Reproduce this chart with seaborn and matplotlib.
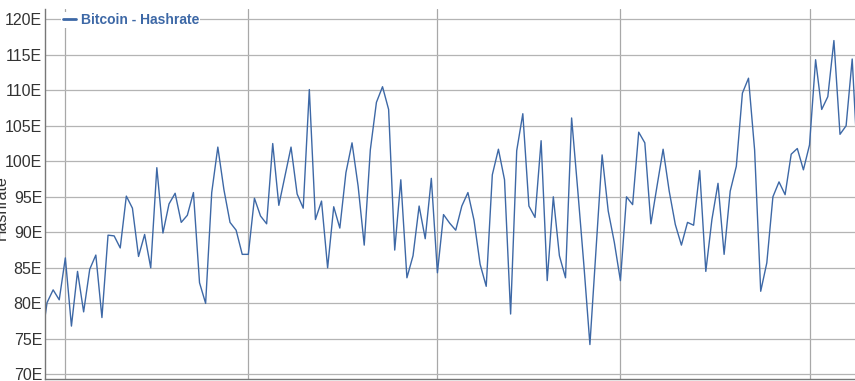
import matplotlib
matplotlib.use("Agg")
import matplotlib.pyplot as plt
import matplotlib.dates as mdates
from matplotlib.ticker import FuncFormatter
import numpy as np
import pandas as pd
import seaborn as sns

# ---- data (daily hashrate, EH/s) ----
start_date = "2019-08-28"
hashrate = [
    74.0, 80.1, 81.9, 80.5, 86.4, 76.8, 84.5, 78.8, 84.8, 86.8,
    78.0, 89.6, 89.5, 87.8, 95.1, 93.4, 86.6, 89.7, 85.0, 99.1,
    89.9, 94.0, 95.5, 91.4, 92.4, 95.6, 82.9, 80.0, 95.6, 102.0,
    96.0, 91.4, 90.3, 86.9, 86.9, 94.8, 92.3, 91.2, 102.5, 93.8,
    97.9, 102.0, 95.4, 93.4, 110.1, 91.8, 94.4, 85.0, 93.6, 90.6,
    98.4, 102.6, 96.5, 88.2, 101.6, 108.3, 110.5, 107.3, 87.5, 97.4,
    83.6, 86.7, 93.7, 89.1, 97.6, 84.3, 92.5, 91.3, 90.3, 93.7,
    95.6, 91.7, 85.5, 82.4, 98.1, 101.7, 97.4, 78.5, 101.5, 106.7,
    93.7, 92.1, 102.9, 83.2, 95.0, 86.7, 83.6, 106.1, 96.0, 85.5,
    74.2, 87.6, 100.9, 93.0, 88.6, 83.2, 95.0, 93.9, 104.1, 102.6,
    91.2, 96.5, 101.7, 95.8, 91.1, 88.2, 91.4, 91.0, 98.7, 84.5,
    91.8, 96.9, 86.9, 95.8, 99.3, 109.6, 111.7, 101.6, 81.7, 85.7,
    95.0, 97.1, 95.3, 101.0, 101.8, 98.8, 102.3, 114.3, 107.3, 109.1,
    117.0, 103.8, 105.0, 114.4, 98.0,
]
series_name = "Bitcoin - Hashrate"
y_label = "Hashrate"
y_ticks = [70, 75, 80, 85, 90, 95, 100, 105, 110, 115, 120]

dates = pd.date_range(start_date, periods=len(hashrate), freq="D")
df = pd.DataFrame({"date": dates, "value": hashrate, "series": series_name})

sns.set_theme(style="white")
plt.rcParams["font.family"] = ["Liberation Sans", "DejaVu Sans"]

W, H = 855, 381
fig = plt.figure(figsize=(W / 100, H / 100), dpi=100)
ax = fig.add_axes([45 / W, 2 / H, 1 - 45 / W, (379 - 9.3) / H])

line_color = "#3d68a6"
sns.lineplot(data=df, x="date", y="value", hue="series",
             palette=[line_color], linewidth=1.0, ax=ax)

ax.set_ylim(69.35, 121.4)
ax.set_xlim(dates[1] - pd.Timedelta(hours=8), dates[-2] + pd.Timedelta(hours=11))
ax.set_yticks(y_ticks)
ax.yaxis.set_major_formatter(FuncFormatter(lambda v, p: f"{v:.0f}E"))
ax.xaxis.set_major_locator(mdates.MonthLocator())
ax.tick_params(axis="x", labelbottom=False, length=0)
ax.tick_params(axis="y", length=0, pad=2, labelsize=11.5, labelcolor="#333333")

ax.grid(True, axis="y", color="#b4b4b4", linewidth=0.9)
ax.grid(True, axis="x", color="#a8a8a8", linewidth=0.9)
ax.set_axisbelow(True)

for s in ["top", "right"]:
    ax.spines[s].set_visible(False)
for s in ["left", "bottom"]:
    ax.spines[s].set_color("#777777")
    ax.spines[s].set_linewidth(1.0)

ax.set_xlabel("")
ax.set_ylabel(y_label, fontsize=11.5, color="#333333")
ax.yaxis.set_label_coords(-0.0445, 0.465)

leg = ax.legend(loc="center left", bbox_to_anchor=(0.02, 0.971),
                frameon=True, borderpad=0.1, borderaxespad=0,
                handlelength=1.0, handletextpad=0.3,
                prop={"weight": "bold", "size": 10})
leg.get_frame().set_facecolor("white")
leg.get_frame().set_edgecolor("none")
leg.get_frame().set_alpha(1)
for t in leg.get_texts():
    t.set_color(line_color)
for h in leg.get_lines():
    h.set_linewidth(2.0)

fig.savefig("out.png", dpi=100)
